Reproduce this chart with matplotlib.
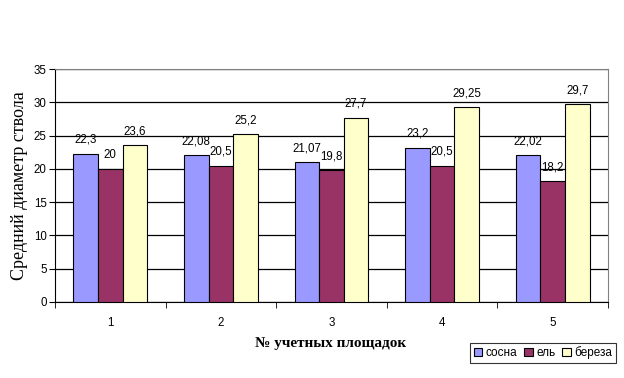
import matplotlib
matplotlib.use("Agg")
import matplotlib.pyplot as plt
import numpy as np

categories = ["1", "2", "3", "4", "5"]
series_names = ["сосна", "ель", "береза"]
sosna = [22.3, 22.08, 21.07, 23.2, 22.02]
el = [20, 20.5, 19.8, 20.5, 18.2]
bereza = [23.6, 25.2, 27.7, 29.25, 29.7]
labels_sosna = ["22,3", "22,08", "21,07", "23,2", "22,02"]
labels_el = ["20", "20,5", "19,8", "20,5", "18,2"]
labels_bereza = ["23,6", "25,2", "27,7", "29,25", "29,7"]
colors = ["#9999FF", "#993366", "#FFFFCC"]

W, H = 624, 378
fig = plt.figure(figsize=(W / 100, H / 100), dpi=100)
ax = fig.add_axes([55 / W, 1 - 302 / H, (608 - 55) / W, (302 - 69) / H])

x = np.arange(len(categories))
bw = 1 / 4.5
series = [sosna, el, bereza]
labs = [labels_sosna, labels_el, labels_bereza]
for i, (vals, lab, c, name) in enumerate(zip(series, labs, colors, series_names)):
    pos = x + (i - 1) * bw
    ax.bar(pos, vals, width=bw, color=c, edgecolor="black", linewidth=0.8,
           label=name, zorder=3)
    for p, v, t in zip(pos, vals, lab):
        ax.annotate(t, (p, v), xytext=(0, 5.5), textcoords="offset points",
                    ha="center", va="bottom", fontsize=8.3,
                    family="Liberation Sans", zorder=4)

ax.set_xlim(-0.5, len(categories) - 0.5)
ax.set_ylim(0, 35)
ax.set_yticks(np.arange(0, 36, 5))
ax.yaxis.grid(True, color="black", linewidth=0.9, zorder=0)
ax.set_xticks(x)
ax.set_xticklabels(categories, family="Liberation Sans", fontsize=8.3)
ax.set_xticks(np.arange(-0.5, len(categories)), minor=True)
ax.tick_params(axis="x", which="major", length=0, pad=11)
ax.tick_params(axis="x", which="minor", length=4, direction="out")
ax.tick_params(axis="y", length=4, direction="out", labelsize=8.3, pad=2)
for t in ax.get_yticklabels():
    t.set_family("Liberation Sans")
ax.spines["left"].set_color("black")
ax.spines["bottom"].set_color("black")
ax.spines["top"].set_color("#808080")
ax.spines["right"].set_color("#808080")

fig.text(20 / W, 1 - 186 / H, "Средний диаметр ствола", rotation=90,
         ha="center", va="center", family="Liberation Serif", fontsize=13)
fig.text(331 / W, 1 - 344 / H, "№ учетных площадок", ha="center", va="center",
         family="Liberation Serif", fontsize=11, fontweight="bold")

leg = fig.legend(loc="center", bbox_to_anchor=(543 / W, 1 - 353 / H), ncol=3,
                 frameon=True, fancybox=False, edgecolor="black",
                 prop={"family": "Liberation Sans", "size": 8.5},
                 handlelength=0.7, handleheight=0.7, handletextpad=0.3,
                 columnspacing=0.6, borderpad=0.3, borderaxespad=0)
leg.get_frame().set_linewidth(0.8)

fig.savefig("out.png", dpi=100)
